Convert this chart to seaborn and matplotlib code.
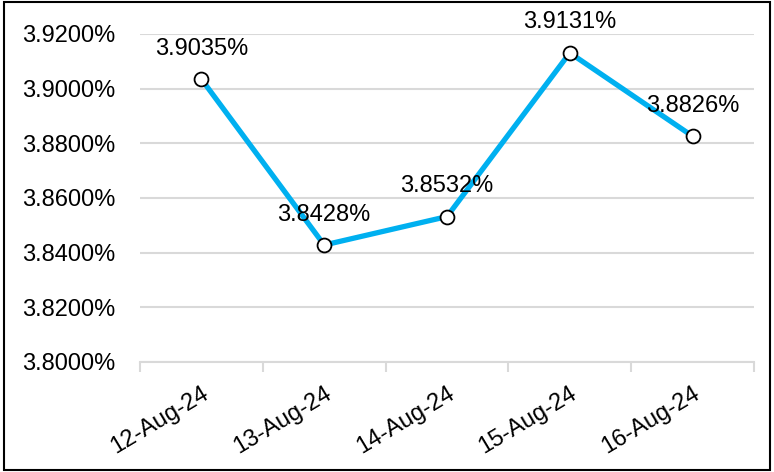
import matplotlib
matplotlib.use("Agg")
import matplotlib.pyplot as plt
import seaborn as sns
import pandas as pd
import numpy as np
from matplotlib.patches import Rectangle

dates = ["12-Aug-24", "13-Aug-24", "14-Aug-24", "15-Aug-24", "16-Aug-24"]
rates = [3.9035, 3.8428, 3.8532, 3.9131, 3.8826]
y_ticks = [3.80, 3.82, 3.84, 3.86, 3.88, 3.90, 3.92]

sns.set_theme(style="white")
plt.rcParams['font.family'] = ['Liberation Sans', 'DejaVu Sans']

df = pd.DataFrame({"pos": np.arange(len(dates)), "date": dates, "rate": rates})

fig = plt.figure(figsize=(7.74, 4.72), dpi=100)
ax = fig.add_axes([140/774, 1-362/472, (754-140)/774, (362-34)/472])

sns.lineplot(data=df, x="pos", y="rate", ax=ax, color="#00B0F0", linewidth=3.8,
             marker="o", markersize=10, markerfacecolor="white",
             markeredgecolor="black", markeredgewidth=1.3)

ax.set_xlim(-0.5, len(dates) - 0.5)
ax.set_ylim(3.80, 3.92)
ax.set_yticks(y_ticks)
ax.set_yticklabels([f"{v:.4f}%" for v in y_ticks], fontsize=17, color="black")
ax.yaxis.grid(True, color="#D9D9D9", linewidth=1.5)
ax.set_axisbelow(True)

ax.set_xticks(np.arange(-0.5, len(dates), 1.0))
ax.set_xticklabels([])
ax.set_xticks(np.arange(len(dates)), minor=True)
ax.set_xticklabels(dates, minor=True, rotation=31, ha="right",
                   rotation_mode="anchor", fontsize=17, color="black")
ax.tick_params(axis="x", which="major", length=7, width=1.5, color="#D9D9D9",
               direction="out", bottom=True)
ax.tick_params(axis="x", which="minor", length=0, pad=15)
ax.tick_params(axis="y", length=0, pad=18)

for s in ["left", "right", "top"]:
    ax.spines[s].set_visible(False)
ax.spines["bottom"].set_color("#D9D9D9")
ax.spines["bottom"].set_linewidth(1.5)

ax.set_xlabel("")
ax.set_ylabel("")

for i, v in enumerate(rates):
    ax.annotate(f"{v:.4f}%", (i, v), xytext=(0, 14), textcoords="offset points",
                ha="center", va="bottom", fontsize=17, color="black")

fig.patches.append(Rectangle((4/774, 2/472), 1-8/774, 1-4/472, transform=fig.transFigure,
                             fill=False, edgecolor="black", linewidth=1.5))

fig.savefig("out.png", dpi=100)
